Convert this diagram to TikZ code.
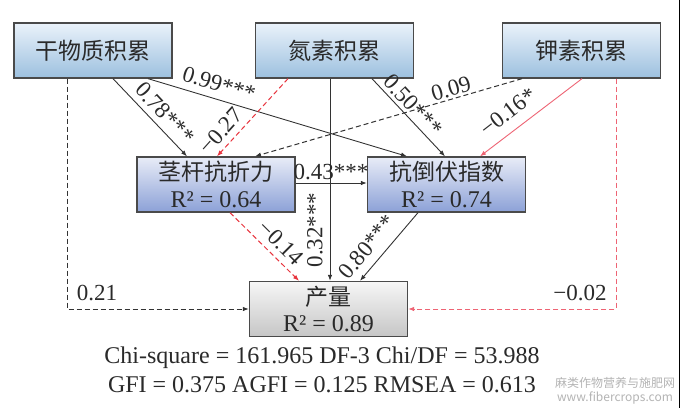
\documentclass[tikz,border=0pt]{standalone}
\usepackage{fontspec}
\setmainfont{Liberation Serif}
\newfontfamily\cjk{Noto Sans CJK SC}
\usetikzlibrary{arrows.meta,calc}
\definecolor{topA}{HTML}{EAF2FA}
\definecolor{topB}{HTML}{9CC0DF}
\definecolor{midA}{HTML}{E8ECF7}
\definecolor{midB}{HTML}{8CA1D7}
\definecolor{grayA}{HTML}{F6F6F6}
\definecolor{grayB}{HTML}{C6C6C6}
\definecolor{boxline}{HTML}{4A4A4A}
\definecolor{txt}{HTML}{2A2A2A}
\definecolor{lineblk}{HTML}{333333}
\definecolor{redc}{HTML}{E8343E}
\definecolor{pinkc}{HTML}{EE6474}
\definecolor{wm}{HTML}{B4B4B4}
\tikzset{
  boxbase/.style={draw=boxline, line width=1.3pt, minimum width=158pt, minimum height=55pt,
    inner sep=0pt, align=center, text=txt, font=\fontsize{24}{27.5}\selectfont},
  topbox/.style={boxbase, top color=topA, bottom color=topB},
  midbox/.style={boxbase, top color=midA, bottom color=midB},
  graybox/.style={boxbase, top color=grayA, bottom color=grayB, font=\fontsize{24}{26}\selectfont},
  cjkt/.style={},
  tip/.style={-{Latex[length=6pt,width=4.5pt]}},
  blk/.style={draw=lineblk, line width=0.9pt, tip},
  blkdash/.style={draw=lineblk, line width=1pt, dash pattern=on 5pt off 3pt, tip},
  reddash/.style={draw=redc, line width=1pt, dash pattern=on 5pt off 3pt, tip},
  pinkline/.style={draw=pinkc, line width=0.9pt, tip},
  pinkdash/.style={draw=pinkc, line width=1pt, dash pattern=on 5pt off 3pt, tip},
  lbl/.style={text=txt, inner sep=0pt, font=\fontsize{23}{23}\selectfont},
  stat/.style={text=txt, inner sep=0pt, font=\fontsize{24}{24}\selectfont},
  wmark/.style={text=wm, inner sep=0pt, font=\cjk\fontsize{12}{12}\selectfont}
}
\newcommand{\zh}[1]{{\cjk\fontsize{23}{27.5}\selectfont #1}}
\begin{document}
\begin{tikzpicture}[x=1pt,y=-1pt]
\useasboundingbox (0,0) rectangle (680,408);
\fill[white] (0,0) rectangle (680,408);
% boxes
\node[topbox] (A) at (93,50.5) {\zh{干物质积累}};
\node[topbox] (N) at (334.5,50.5) {\zh{氮素积累}};
\node[topbox] (K) at (581.5,50.5) {\zh{钾素积累}};
\node[midbox] (S) at (216,184.5) {\zh{茎杆抗折力}\\R² = 0.64};
\node[midbox] (L) at (446.5,184.5) {\zh{抗倒伏指数}\\R² = 0.74};
\node[graybox] (Y) at (328.5,309) {\zh{产量}\\R² = 0.89};
% connectors
\draw[blk] ([xshift=20pt]A.south) -- ([xshift=-29pt]S.north);
\draw[blk] ([xshift=55pt]A.south) -- ([xshift=-39.5pt]L.north);
\draw[reddash] ([xshift=-46.5pt]N.south) -- ([xshift=1pt]S.north);
\draw[blk] ([xshift=37.5pt]N.south) -- ([xshift=-1.5pt]L.north);
\draw[blk] ([xshift=-4.5pt]N.south) -- ([xshift=1.5pt]Y.north);
\draw[blkdash] ([xshift=-59.5pt]K.south) -- ([xshift=39pt]S.north);
\draw[pinkline] ([xshift=0.5pt]K.south) -- ([xshift=33.5pt]L.north);
\draw[blk] ([yshift=1.5pt]S.east) -- ([yshift=1.5pt]L.west);
\draw[reddash] ([xshift=14pt]S.south) -- ([xshift=-29.5pt]Y.north);
\draw[blk] ([xshift=-28.5pt]L.south) -- ([xshift=31.5pt]Y.north);
\draw[blkdash] ([xshift=-26pt]A.south) |- (Y.west);
\draw[pinkdash] ([xshift=34.5pt]K.south) |- (Y.east);
% labels
\node[lbl, rotate=-46.9] (l78) at (165,113) {0.78***};
\node[lbl, rotate=-16.96] (l99) at (219,84) {0.99***};
\node[lbl, rotate=48.05] (l27) at (221,131) {−0.27};
\node[lbl, rotate=-47.3] (l50) at (413,105) {0.50***};
\node[lbl, rotate=16.5] (l09) at (451,89) {0.09};
\node[lbl, rotate=37.8] (l16) at (508,112) {−0.16*};
\node[lbl] (l43) at (331,172) {0.43***};
\node[lbl, rotate=90] (l32) at (315,230) {0.32***};
\node[lbl, rotate=-45] (l14) at (281,243) {−0.14};
\node[lbl, rotate=50] (l80) at (367,247) {0.80***};
\node[lbl] (l21) at (97,293) {0.21};
\node[lbl] (l02) at (580,293) {−0.02};
% statistics
\node[stat] (st1) at (322,358) {Chi-square = 161.965 DF-3 Chi/DF = 53.988};
\node[stat] (st2) at (322,385) {GFI = 0.375 AGFI = 0.125 RMSEA = 0.613};
% watermark
\node[wmark] (wm1) at (615,383) {麻类作物营养与施肥网};
\node[wmark] (wm2) at (615,398) {www.fibercrops.com};
% right border
\draw[black, line width=1.5pt] (679.25,0) -- (679.25,408);
\end{tikzpicture}
\end{document}
